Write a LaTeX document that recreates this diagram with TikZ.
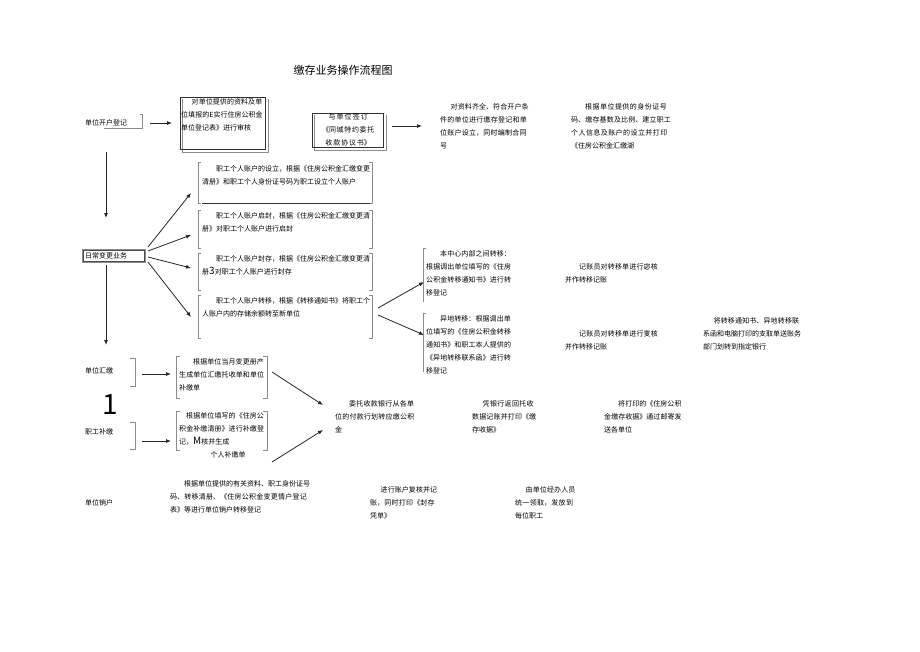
\documentclass[tikz,border=0pt]{standalone}
\usepackage{fontspec}
\setmainfont{Noto Sans CJK SC}
\XeTeXlinebreaklocale "zh"
\XeTeXlinebreakskip=0pt plus 1pt
\usetikzlibrary{arrows.meta}
\tikzset{
  txt/.style={anchor=north west,align=left,inner sep=0pt,font=\fontsize{7}{13}\selectfont},
  lbl/.style={anchor=west,inner sep=1pt,font=\fontsize{7}{9}\selectfont},
  arr/.style={-{Latex[length=5pt,width=4pt]},line width=0.8pt,black!85},
  brk/.style={draw=black!45,line width=0.7pt},
  box/.style={draw=black!80,line width=0.8pt}
}
\begin{document}
\begin{tikzpicture}[x=1pt,y=-1pt]
\useasboundingbox (0,0) rectangle (920,651);
\node[anchor=center,font=\fontsize{11}{13}\selectfont] (title) at (343,70) {缴存业务操作流程图};
% row 1
\node[lbl] (kaihu) at (84,123) {单位开户登记};
\draw[brk] (140,114) -- (142,114) -- (142,128) -- (104,128);
\coordinate (k1) at (150,123); \coordinate (k2) at (172,123);
\draw[arr] (k1) -- (k2);
\draw[brk] (182,99) -- (182,152) -- (268,152) -- (268,99);
\draw[box] (180,97) rectangle (265,149);
\node[txt,text width=82pt] (b1) at (181,98) {\hspace*{1.5em}对单位提供的资料及单位填报的E实行住房公积金单位登记表》进行审核};
\draw[brk] (314,115) -- (314,150) -- (386,150) -- (386,115);
\draw[box] (312,113) rectangle (383,147);
\node[txt,text width=70pt,align=center] (b2) at (313,113) {与单位签订\\《同城特约委托收款协议书》};
\coordinate (c1) at (392,126); \coordinate (c2) at (422,126);
\draw[arr] (c1) -- (c2);
\node[txt,text width=90pt] (t1) at (440,103) {\hspace*{1.5em}对资料齐全、符合开户条件的单位进行缴存登记和单位账户设立，同时编制合同号};
\node[txt,text width=102pt] (t2) at (571,103) {\hspace*{2em}根据单位提供的身份证号码、缴存基数及比例、建立职工个人信息及账户的设立并打印《住房公积金汇缴湖};
% daily changes
\coordinate (v1) at (106,152); \coordinate (v2) at (106,218);
\draw[arr] (v1) -- (v2);
\draw[brk] (82,249) rectangle (145,262);
\draw[black!70] (83,250) rectangle (144,261);
\node[lbl] (rc) at (84,255.5) {日常变更业务};
\coordinate (r1) at (148,247); \coordinate (r2) at (148,251); \coordinate (r3) at (148,257); \coordinate (r4) at (148,262);
\coordinate (e1) at (191,193); \coordinate (e2) at (191,235); \coordinate (e3) at (191,268); \coordinate (e4) at (191,317);
\draw[arr] (r1) -- (e1); \draw[arr] (r2) -- (e2); \draw[arr] (r3) -- (e3); \draw[arr] (r4) -- (e4);
\foreach \a/\b in {162/203,210/248,253/290,295/338}{
  \draw[brk] (201,\a) -- (198,\a) -- (198,\b) -- (201,\b);
  \draw[brk] (369,\a) -- (372,\a) -- (372,\b) -- (369,\b);
}
\draw[black!80,line width=0.6pt] (202,203) -- (370,203);
\node[txt,text width=168pt] (p1) at (202,165) {\hspace*{2em}职工个人账户的设立，根据《住房公积金汇缴变更清册》和职工个人身份证号码为职工设立个人账户};
\node[txt,text width=168pt] (p2) at (202,212) {\hspace*{2em}职工个人账户启封，根据《住房公积金汇缴变更清册》对职工个人账户进行启封};
\node[txt,text width=168pt] (p3) at (202,255) {\hspace*{2em}职工个人账户封存，根据《住房公积金汇缴变更清册{\fontsize{10}{13}\selectfont 3}对职工个人账户进行封存};
\node[txt,text width=168pt] (p4) at (202,297) {\hspace*{2em}职工个人账户转移，根据《转移通知书》将职工个人账户内的存储余额转至新单位};
\coordinate (s1) at (378,308); \coordinate (s2) at (378,315);
\coordinate (u1) at (424,282); \coordinate (u2) at (424,335);
\draw[arr] (s1) -- (u1); \draw[arr] (s2) -- (u2);
\draw[brk] (426,248) -- (423,248) -- (423,302);
\draw[brk] (426,313) -- (423,313) -- (423,372);
\node[txt,text width=86pt] (q1) at (426,250) {\hspace*{2em}本中心内部之间转移：根据调出单位填写的《住房公积金转移通知书》进行转移登记};
\node[txt,text width=86pt] (q2) at (426,315) {\hspace*{2em}异地转移：根据调出单位填写的《住房公积金转移通知书》和职工本人提供的《异地转移联系函》进行转移登记};
\node[txt,text width=95pt] (q3) at (565,263) {\hspace*{2em}记账员对转移单进行宓核并作转移记账};
\node[txt,text width=95pt] (q4) at (565,330) {\hspace*{2em}记账员对转移单进行叓核并作转移记账};
\node[txt,text width=98pt] (q5) at (703,317) {\hspace*{1.5em}将转移通知书、异地转移联系函和电脑打印的支取单送账务部门划转到指定银行};
% collection
\coordinate (w1) at (106,265); \coordinate (w2) at (106,345);
\draw[arr] (w1) -- (w2);
\node[lbl] (hj) at (84,371) {单位汇缴};
\draw[brk] (130,358) -- (135,358) -- (135,386) -- (130,386);
\coordinate (h1) at (142,374); \coordinate (h2) at (171,374);
\draw[arr] (h1) -- (h2);
\foreach \a/\b in {356/398,411/450}{
  \draw[brk] (180,\a) -- (176,\a) -- (176,\b) -- (180,\b);
  \draw[brk] (263,\a) -- (267,\a) -- (267,\b) -- (263,\b);
}
\node[txt,text width=86pt] (h3) at (179,358) {\hspace*{2em}根据单位当月变更册产生成单位汇缴托收单和单位补缴单};
\node[anchor=center,font=\fontsize{28}{28}\selectfont] (one) at (110,405) {1};
\node[lbl] (bj) at (84,432) {职工补缴};
\draw[brk] (130,422) -- (135,422) -- (135,449) -- (130,449);
\coordinate (m1) at (142,441); \coordinate (m2) at (171,441);
\draw[arr] (m1) -- (m2);
\node[txt,text width=86pt] (m3) at (179,412) {\hspace*{1em}根据单位填写的《住房公积金补缴清册》进行补缴登记，{\fontsize{10}{13}\selectfont M}核并生成\\\hspace*{4.5em}个人补缴单};
\coordinate (g1) at (272,372); \coordinate (g2) at (323,405);
\coordinate (g3) at (272,462); \coordinate (g4) at (323,430);
\draw[arr] (g1) -- (g2); \draw[arr] (g3) -- (g4);
\node[txt,text width=82pt] (n1) at (335,400) {\hspace*{2em}委托收款银行从各单位的付款行划转应缴公积金};
\node[txt,text width=66pt] (n2) at (472,400) {\hspace*{1.5em}凭银行返回托收数据记账并打印《缴存收据》};
\node[txt,text width=78pt] (n3) at (604,400) {\hspace*{2em}将打印的《住房公积金缴存收据》通过邮寄发送各单位};
% closing
\node[lbl] (xh) at (84,503) {单位销户};
\node[txt,text width=140pt] (x1) at (170,480) {\hspace*{2em}根据单位提供的有关资料、职工身份证号码、转移清册、《住房公积金变更情户登记表》等进行单位销户转移登记};
\node[txt,text width=68pt] (x2) at (370,486) {\hspace*{1.5em}进行账户复核并记账，同时打印《封存凭单》};
\node[txt,text width=62pt] (x3) at (515,486) {\hspace*{1.5em}由单位经办人员统一领取，发放到每位职工};
\end{tikzpicture}
\end{document}
